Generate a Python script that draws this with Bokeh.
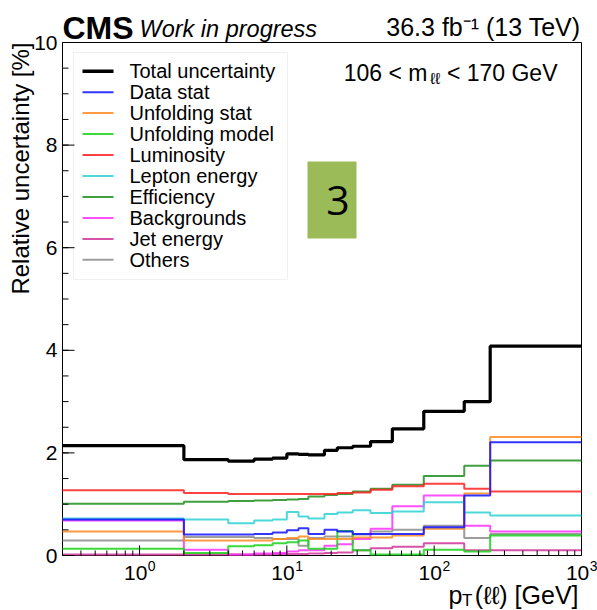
from math import pi, log10
from bokeh.plotting import figure
from bokeh.models import Range1d, Label, BoxAnnotation
from bokeh.embed import file_html
from bokeh.resources import INLINE

# ---------------- data (relative uncertainty in %) ----------------
bin_edges = [0, 2, 4, 6, 8, 10, 12, 14, 18, 22, 28, 37, 52, 85, 160, 240, 1000]

total_unc      = [2.14, 1.87, 1.84, 1.88, 1.90, 1.98, 1.97, 1.96, 2.05, 2.10, 2.13, 2.22, 2.47, 2.81, 3.00, 4.08]
data_stat      = [0.70, 0.41, 0.41, 0.42, 0.45, 0.49, 0.53, 0.42, 0.50, 0.47, 0.42, 0.42, 0.42, 0.55, 1.17, 2.21]
unfold_stat    = [0.47, 0.29, 0.29, 0.29, 0.32, 0.34, 0.37, 0.32, 0.32, 0.32, 0.35, 0.35, 0.39, 0.52, 1.21, 2.31]
unfold_model   = [0.13, 0.05, 0.18, 0.20, 0.24, 0.26, 0.29, 0.13, 0.13, 0.48, 0.10, 0.02, 0.02, 0.11, 0.08, 0.39]
luminosity     = [1.27, 1.22, 1.20, 1.20, 1.20, 1.20, 1.20, 1.20, 1.20, 1.22, 1.23, 1.28, 1.35, 1.40, 1.30, 1.25]
lepton_energy  = [0.72, 0.70, 0.63, 0.68, 0.70, 0.85, 0.76, 0.72, 0.81, 0.84, 0.88, 0.83, 0.86, 1.04, 0.84, 0.78]
efficiency     = [1.01, 1.05, 1.06, 1.07, 1.08, 1.09, 1.10, 1.15, 1.18, 1.20, 1.25, 1.30, 1.38, 1.55, 1.75, 1.85]
backgrounds    = [0.68, 0.11, 0.02, 0.04, 0.05, 0.08, 0.10, 0.10, 0.19, 0.22, 0.32, 0.52, 0.96, 1.17, 0.58, 0.47]
jet_energy     = [0.02, 0.02, 0.02, 0.02, 0.03, 0.03, 0.03, 0.04, 0.05, 0.06, 0.10, 0.14, 0.17, 0.24, 0.10, 0.10]
others         = [0.29, 0.36, 0.36, 0.34, 0.32, 0.32, 0.19, 0.34, 0.37, 0.37, 0.41, 0.47, 0.50, 0.58, 0.34, 0.42]

series_names = ["Total uncertainty", "Data stat", "Unfolding stat", "Unfolding model", "Luminosity",
                "Lepton energy", "Efficiency", "Backgrounds", "Jet energy", "Others"]
series_values = [total_unc, data_stat, unfold_stat, unfold_model, luminosity,
                 lepton_energy, efficiency, backgrounds, jet_energy, others]
series_colors = ["#000000", "#1010ff", "#ff8a1e", "#16d316", "#ff2020",
                 "#2ed2d2", "#1f8f1f", "#ff30ff", "#d0349a", "#8c8c8c"]
series_widths = [3.2, 2, 2, 2, 2, 2, 2, 2, 2, 2]

x_major = [1, 10, 100, 1000]
x_exponents = ["0", "1", "2", "3"]
y_major = [0, 2, 4, 6, 8, 10]
y_minor = [0.5 * i for i in range(21)]

x_lo, x_hi = 0.3, 1000.0
y_lo, y_hi = 0.0, 10.0

# ---------------- layout (pixels) ----------------
FONT = "Liberation Sans"
INK = "black"
W, H = 597, 610
L, R, T, B = 62, 581, 42, 555          # data box in page pixels

dpp_x = (log10(x_hi) - log10(x_lo)) / (R - L)   # decades per pixel
dpp_y = (y_hi - y_lo) / (B - T)                 # units per pixel
x_range = Range1d(10 ** (log10(x_lo) - L * dpp_x), 10 ** (log10(x_hi) + (W - R) * dpp_x))
y_range = Range1d(y_lo - (H - B) * dpp_y, y_hi + T * dpp_y)

p = figure(width=W, height=H, x_axis_type="log", x_range=x_range, y_range=y_range,
           x_axis_location=None, y_axis_location=None,
           output_backend="svg", toolbar_location=None, min_border=0,
           background_fill_color="white", border_fill_color="white")
p.grid.visible = False
p.outline_line_color = None

def sy(page_y):
    return H - page_y

def px_to_x(page_x):
    return 10 ** (log10(x_range.start) + page_x * dpp_x)

def py_to_y(page_y):
    return y_range.start + (H - page_y) * dpp_y

def txt(x, y, text, size, align="left", style="normal", font=FONT, angle=0.0):
    p.add_layout(Label(x=x, y=sy(y), x_units="screen", y_units="screen", text=text,
                       text_align=align, text_baseline="middle", text_font=font,
                       text_font_style=style, text_font_size=size, angle=angle, text_color=INK))

# data box
p.quad(left=[x_lo], right=[x_hi], bottom=[y_lo], top=[y_hi], fill_color=None,
       line_color="black", line_width=1)

# steps
xs = [max(e, x_lo) for e in bin_edges]
for name, vals, col, lw in reversed(list(zip(series_names, series_values, series_colors, series_widths))):
    p.step(xs, list(vals) + [vals[-1]], mode="after", line_color=col, line_width=lw,
           line_alpha=1.0 if name == "Total uncertainty" else 0.85)

# ticks
x_minor = []
for d in range(-1, 3):
    for m in range(2, 10):
        v = m * 10 ** d
        if x_lo <= v <= x_hi:
            x_minor.append(v)
p.segment(x0=x_major, y0=[y_lo] * len(x_major), x1=x_major, y1=[y_lo + 10 * dpp_y] * len(x_major),
          line_color="black", line_width=1)
p.segment(x0=x_minor, y0=[y_lo] * len(x_minor), x1=x_minor, y1=[y_lo + 5 * dpp_y] * len(x_minor),
          line_color="black", line_width=1)
p.segment(x0=[x_lo] * len(y_major), y0=y_major, x1=[x_lo * 10 ** (12 * dpp_x)] * len(y_major), y1=y_major,
          line_color="black", line_width=1)
p.segment(x0=[x_lo] * len(y_minor), y0=y_minor, x1=[x_lo * 10 ** (6 * dpp_x)] * len(y_minor), y1=y_minor,
          line_color="black", line_width=1)

# tick labels
for v in y_major:
    p.add_layout(Label(x=x_lo, y=v, x_offset=-5, text=str(v), text_align="right", text_baseline="middle",
                       text_font=FONT, text_font_size="21px", text_color=INK))
for v, e in zip(x_major, x_exponents):
    p.add_layout(Label(x=v, y=sy(572), y_units="screen", text="10", text_align="right",
                       text_baseline="middle", x_offset=7.8, text_font=FONT, text_font_size="21px",
                       text_color=INK))
    p.add_layout(Label(x=v, y=sy(565), y_units="screen", text=e, text_align="left",
                       text_baseline="middle", x_offset=8.3, text_font=FONT, text_font_size="14px",
                       text_color=INK))

# axis titles
txt(20, T, "Relative uncertainty [%]", "24px", align="right", angle=pi / 2)
txt(578, 594, "(ℓℓ) [GeV]", "25px", align="right")
txt(472, 600, "T", "17px", align="right")
txt(462, 594, "p", "25px", align="right")

# header
txt(L, 27, "CMS", "32px", style="bold")
txt(139, 28, "Work in progress", "23.5px", style="italic")
txt(580, 26, "36.3 fb⁻¹ (13 TeV)", "25px", align="right")

# mass window text
txt(557, 72, "< 170 GeV", "23px", align="right")
txt(440, 78, "ℓℓ", "16px", align="right")
txt(427, 72, "106 < m", "23px", align="right")

# numbered box
p.add_layout(BoxAnnotation(left=307, right=356, top=sy(161), bottom=sy(238),
                           left_units="screen", right_units="screen", top_units="screen", bottom_units="screen",
                           fill_color="#9BBB59", fill_alpha=1.0, line_color=None))
txt(337.5, 200, "3", "41px", align="center", font="Open Sans")

# legend (drawn by hand for exact spacing)
p.add_layout(BoxAnnotation(left=73, right=287, top=sy(52), bottom=sy(279), level="underlay",
                           left_units="screen", right_units="screen", top_units="screen", bottom_units="screen",
                           fill_color="white", fill_alpha=1.0, line_color="#cccccc", line_width=1))
row0, row_h = 70.7, 20.96
for i, (name, col, lw) in enumerate(zip(series_names, series_colors, series_widths)):
    yc = row0 + i * row_h
    p.segment(x0=[px_to_x(82)], y0=[py_to_y(yc)], x1=[px_to_x(113)], y1=[py_to_y(yc)],
              line_color=col, line_width=lw + (0.3 if i == 0 else 0.0),
              line_alpha=1.0 if i == 0 else 0.85)
    txt(129, yc, name, "20px")

open("out.html", "w").write(file_html(p, INLINE))
